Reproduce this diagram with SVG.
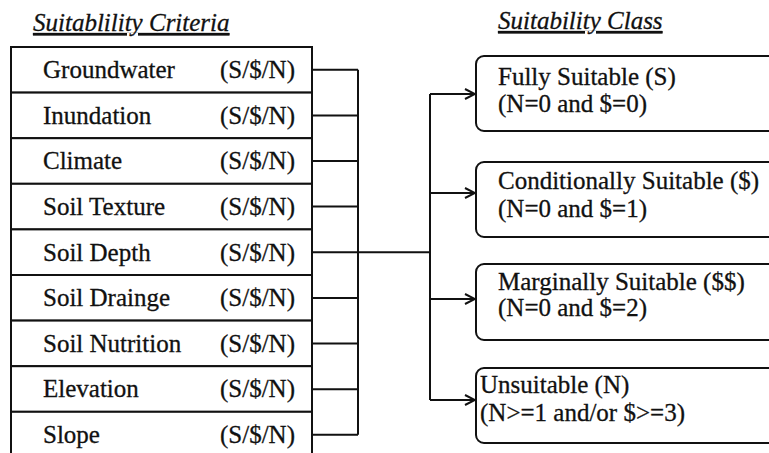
<svg xmlns="http://www.w3.org/2000/svg" width="769" height="453" viewBox="0 0 769 453">
<defs>
<style>
.t{font-family:'Liberation Serif','Times New Roman',Times,serif;font-size:25px;fill:#111;stroke:#111;stroke-width:0.3}
.title{font-style:italic;text-decoration:underline}
.cell{fill:#fff;stroke:#111;stroke-width:2}
.cls{fill:#fff;stroke:#111;stroke-width:2}
.wire{fill:none;stroke:#111;stroke-width:2}
</style>
<marker id="arr" viewBox="0 0 12 12" refX="11" refY="6" markerWidth="12" markerHeight="12" markerUnits="userSpaceOnUse" orient="auto">
<path d="M1,1 L11,6 L1,11" fill="none" stroke="#111" stroke-width="2"/>
</marker>
</defs>
<rect width="769" height="453" fill="#fff"/>
<g class="t" font-family="Liberation Serif, Times New Roman, serif">
<text class="title" x="33" y="31">Suitablility Criteria</text>
<text class="title" x="498" y="29">Suitability Class</text>

<g id="criteria">
<g id="c-groundwater"><rect class="cell" x="11" y="47" width="301" height="45.6"/><text x="43" y="78">Groundwater</text><text x="220" y="78">(S/$/N)</text></g>
<g id="c-inundation"><rect class="cell" x="11" y="92.6" width="301" height="45.6"/><text x="43" y="124">Inundation</text><text x="220" y="124">(S/$/N)</text></g>
<g id="c-climate"><rect class="cell" x="11" y="138.2" width="301" height="45.6"/><text x="43" y="169">Climate</text><text x="220" y="169">(S/$/N)</text></g>
<g id="c-texture"><rect class="cell" x="11" y="183.8" width="301" height="45.6"/><text x="43" y="215">Soil Texture</text><text x="220" y="215">(S/$/N)</text></g>
<g id="c-depth"><rect class="cell" x="11" y="229.4" width="301" height="45.6"/><text x="43" y="261">Soil Depth</text><text x="220" y="261">(S/$/N)</text></g>
<g id="c-drainge"><rect class="cell" x="11" y="275" width="301" height="45.6"/><text x="43" y="306">Soil Drainge</text><text x="220" y="306">(S/$/N)</text></g>
<g id="c-nutrition"><rect class="cell" x="11" y="320.6" width="301" height="45.6"/><text x="43" y="352">Soil Nutrition</text><text x="220" y="352">(S/$/N)</text></g>
<g id="c-elevation"><rect class="cell" x="11" y="366.2" width="301" height="45.6"/><text x="43" y="397">Elevation</text><text x="220" y="397">(S/$/N)</text></g>
<g id="c-slope"><rect class="cell" x="11" y="411.8" width="301" height="50"/><text x="43" y="443">Slope</text><text x="220" y="443">(S/$/N)</text></g>
</g>

<g id="classes">
<g id="k-fully"><rect class="cls" x="476" y="56" width="320" height="75" rx="8"/><text x="498" y="85">Fully Suitable (S)</text><text x="498" y="112">(N=0 and $=0)</text></g>
<g id="k-conditional"><rect class="cls" x="476" y="162" width="320" height="75" rx="8"/><text x="498" y="189">Conditionally Suitable ($)</text><text x="498" y="217">(N=0 and $=1)</text></g>
<g id="k-marginal"><rect class="cls" x="476" y="264" width="320" height="76" rx="8"/><text x="498" y="290">Marginally Suitable ($$)</text><text x="498" y="316">(N=0 and $=2)</text></g>
<g id="k-unsuitable"><rect class="cls" x="476" y="368" width="320" height="75" rx="8"/><text x="480" y="393">Unsuitable (N)</text><text x="480" y="421">(N&gt;=1 and/or $&gt;=3)</text></g>
</g>
</g>

<g id="connectors">
<path class="wire" d="M312,69.8H358M312,115.4H358M312,161H358M312,206.6H358M312,298H358M312,343.6H358M312,389.2H358M312,434.8H358M358,69.8V434.8M312,252.2H430M430,94V400"/>
<path class="wire" d="M430,94H475" marker-end="url(#arr)"/>
<path class="wire" d="M430,193H475" marker-end="url(#arr)"/>
<path class="wire" d="M430,299H475" marker-end="url(#arr)"/>
<path class="wire" d="M430,400H475" marker-end="url(#arr)"/>
</g>
</svg>
